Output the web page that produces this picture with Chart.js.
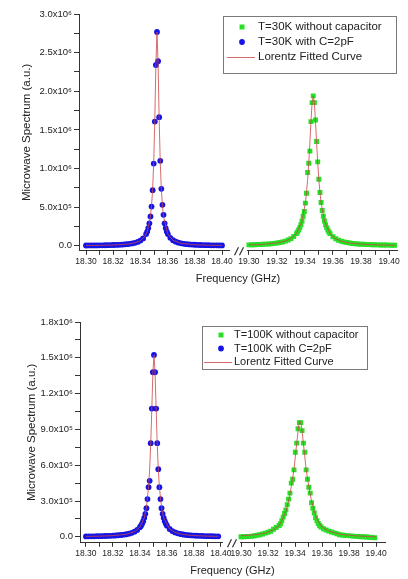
<!DOCTYPE html>
<html><head><meta charset="utf-8">
<script src="https://cdn.jsdelivr.net/npm/chart.js@4"></script>
<style>
html,body{margin:0;padding:0;background:#fff;}
#wrap{position:relative;width:408px;height:579px;overflow:hidden;background:#fff;}
canvas{position:absolute;left:0;}
#c1{top:0;width:408px;height:290px;}
#c2{top:290px;width:408px;height:289px;}
</style></head><body>
<div id="wrap"><canvas id="c1" width="408" height="290"></canvas><canvas id="c2" width="408" height="289"></canvas></div>
<script>
// ---------- DATA (spectrum values in units of 10^6 a.u., frequency in GHz) ----------
// Panel 1: T = 30 K
const freqBlue30 = [18.300,18.302,18.304,18.306,18.308,18.310,18.312,18.314,18.316,18.318,18.320,18.322,18.324,18.326,18.328,18.330,18.332,18.334,18.336,18.338,18.340,18.342,
  18.3442,18.3450,18.3458,18.3466,18.3474,18.3482,18.3490,18.3498,18.3506,18.3514,18.3522,18.3530,18.3538,18.3546,18.3554,18.3562,18.3570,18.3578,18.3586,18.3594,18.3602,
  18.362,18.364,18.366,18.368,18.370,18.372,18.374,18.376,18.378,18.380,18.382,18.384,18.386,18.388,18.390,18.392,18.394,18.396,18.398,18.400];
const specBlue30 = [0.0037,0.0040,0.0043,0.0047,0.0052,0.0057,0.0063,0.0070,0.0078,0.0087,0.0098,0.0111,0.0128,0.0148,0.0173,0.0205,0.0248,0.0304,0.0383,0.0497,0.0669,0.0947,
  0.151,0.184,0.229,0.290,0.379,0.508,0.720,1.064,1.607,2.340,2.767,2.390,1.664,1.099,0.737,0.530,0.400,0.290,0.229,0.184,0.151,
  0.1025,0.0713,0.0525,0.0403,0.0318,0.0258,0.0213,0.0179,0.0152,0.0131,0.0114,0.0100,0.0089,0.0080,0.0072,0.0065,0.0059,0.0054,0.0049,0.0045];
const freqGreen30 = [19.300,19.302,19.304,19.306,19.308,19.310,19.312,19.314,19.316,19.318,19.320,19.322,19.324,19.326,19.328,19.330,19.332,
  19.3339,19.3347,19.3355,19.3363,19.3371,19.3379,19.3387,19.3395,19.3403,19.3411,19.3419,19.3427,19.3435,19.3443,19.3451,19.3459,19.3467,19.3475,19.3483,19.3491,19.3499,19.3507,19.3515,19.3523,19.3531,19.3539,19.3547,19.3555,19.3563,19.3571,19.3579,
  19.360,19.362,19.364,19.366,19.368,19.370,19.372,19.374,19.376,19.378,19.380,19.382,19.384,19.386,19.388,19.390,19.392,19.394,19.396,19.398,19.400,19.402,19.404];
const specGreen30 = [0.0116,0.0127,0.0139,0.0153,0.0170,0.0189,0.0212,0.0239,0.0273,0.0311,0.0360,0.0421,0.0500,0.0602,0.0738,0.0926,0.1200,
  0.157,0.178,0.204,0.235,0.273,0.321,0.381,0.444,0.552,0.681,0.948,1.069,1.225,1.607,1.853,1.940,1.853,1.629,1.349,1.086,0.862,0.689,0.560,0.456,0.381,0.321,0.273,0.235,0.204,0.178,0.157,
  0.116,0.0904,0.0724,0.0590,0.0491,0.0414,0.0355,0.0307,0.0268,0.0236,0.0209,0.0187,0.0168,0.0152,0.0138,0.0126,0.0115,0.0106,0.0098,0.0091,0.0084,0.0078,0.0072];
const fitFreqBlue30 = [18.300,18.310,18.320,18.330,18.336,18.340,18.343,18.345,18.347,18.3482,18.349,18.3498,18.3506,18.3514,18.3522,18.3530,18.3538,18.3546,18.3554,18.3562,18.357,18.360,18.364,18.370,18.380,18.390,18.400];
const fitBlue30 = [0.0037,0.0057,0.0098,0.0205,0.0383,0.0669,0.1155,0.1837,0.332,0.518,0.732,1.080,1.633,2.357,2.767,2.357,1.633,1.080,0.732,0.518,0.382,0.158,0.0713,0.0318,0.0131,0.0072,0.0045];
const fitFreqGreen30 = [19.300,19.310,19.320,19.326,19.330,19.3339,19.3379,19.3403,19.3411,19.3419,19.3427,19.3435,19.3443,19.3451,19.3459,19.3467,19.3475,19.3483,19.3491,19.3499,19.3507,19.3515,19.3539,19.3579,19.362,19.366,19.372,19.380,19.390,19.404];
const fitGreen30 = [0.0116,0.0189,0.0360,0.0602,0.0926,0.157,0.321,0.558,0.688,0.858,1.073,1.334,1.614,1.853,1.940,1.853,1.614,1.334,1.073,0.858,0.688,0.558,0.321,0.157,0.0904,0.0590,0.0355,0.0209,0.0126,0.0072];

// Panel 2: T = 100 K
const freqBlue100 = [18.300,18.302,18.304,18.306,18.308,18.310,18.312,18.314,18.316,18.318,18.320,18.322,18.324,18.326,18.328,18.330,18.332,18.334,18.336,18.338,18.340,
  18.3408,18.3416,18.3424,18.3432,18.3440,18.3448,18.3456,18.3464,18.3472,18.3480,18.3488,18.3496,18.3504,18.3512,18.3520,18.3528,18.3536,18.3544,18.3552,18.3560,18.3568,18.3576,18.3584,18.3592,18.3600,
  18.362,18.364,18.366,18.368,18.370,18.372,18.374,18.376,18.378,18.380,18.382,18.384,18.386,18.388,18.390,18.392,18.394,18.396,18.398];
const specBlue100 = [0.0036,0.0039,0.0042,0.0046,0.0051,0.0056,0.0062,0.0069,0.0078,0.0087,0.0099,0.0113,0.0131,0.0153,0.0182,0.0218,0.0268,0.0336,0.0432,0.0577,0.0806,
  0.0936,0.110,0.131,0.159,0.193,0.240,0.316,0.416,0.469,0.785,1.075,1.379,1.524,1.379,1.075,0.785,0.567,0.416,0.316,0.240,0.193,0.159,0.131,0.110,0.0936,
  0.0657,0.0482,0.0370,0.0292,0.0236,0.0195,0.0164,0.0139,0.0120,0.0104,0.0091,0.0081,0.0072,0.0065,0.0059,0.0053,0.0049,0.0045,0.0041];
const freqGreen100 = [19.300,19.302,19.304,19.306,19.308,19.310,19.312,19.314,19.316,19.318,19.320,19.322,19.324,19.326,
  19.3282,19.3292,19.3302,19.3312,19.3322,19.3332,19.3342,19.3352,19.3362,19.3372,19.3382,19.3392,19.3402,19.3412,19.3422,19.3432,
  19.3442,19.3452,19.3462,19.3472,19.3482,19.3492,19.3502,19.3512,19.3522,19.3532,19.3542,19.3552,19.3562,19.3572,19.3582,19.3592,
  19.361,19.363,19.365,19.367,19.369,19.371,19.373,19.375,19.377,19.379,19.381,19.383,19.385,19.387,19.389,19.391,19.393,19.395,19.397,19.399];
const specGreen100 = [0.000,0.001,0.002,0.003,0.005,0.009,0.013,0.017,0.024,0.031,0.038,0.047,0.064,0.078,
  0.095,0.110,0.135,0.165,0.195,0.226,0.270,0.316,0.366,0.450,0.483,0.561,0.709,0.785,0.905,0.957,
  0.957,0.890,0.785,0.709,0.561,0.483,0.416,0.366,0.285,0.240,0.200,0.160,0.135,0.112,0.095,0.082,
  0.068,0.058,0.048,0.040,0.033,0.026,0.018,0.015,0.012,0.010,0.008,0.006,0.004,0.003,0.001,0.000,-0.002,-0.004,-0.006,-0.008];
const fitFreqBlue100 = [18.300,18.310,18.320,18.330,18.336,18.340,18.3432,18.3448,18.3464,18.3472,18.3480,18.3488,18.3496,18.3504,18.3512,18.3520,18.3528,18.3536,18.3544,18.3560,18.3576,18.362,18.366,18.372,18.380,18.390,18.398];
const fitBlue100 = [0.0036,0.0056,0.0099,0.0218,0.0432,0.0806,0.159,0.247,0.418,0.566,0.781,1.071,1.378,1.524,1.378,1.071,0.781,0.566,0.418,0.247,0.159,0.0657,0.037,0.0195,0.0104,0.0059,0.0041];
const fitFreqGreen100 = [19.300,19.310,19.318,19.324,19.3282,19.3312,19.3332,19.3352,19.3372,19.3392,19.3412,19.3427,19.3437,19.3447,19.3462,19.3482,19.3502,19.3522,19.3542,19.3562,19.3592,19.365,19.373,19.385,19.400];
const fitGreen100 = [0.010,0.017,0.031,0.060,0.095,0.160,0.215,0.300,0.420,0.565,0.780,0.935,0.970,0.935,0.780,0.565,0.420,0.300,0.215,0.150,0.090,0.048,0.022,0.008,0.000];

// Tick values / labels
const xMajorLeft = [18.30,18.32,18.34,18.36,18.38,18.40];
const xLabelsLeft = ['18.30','18.32','18.34','18.36','18.38','18.40'];
const xMajorRight = [19.30,19.32,19.34,19.36,19.38,19.40];
const xLabelsRight = ['19.30','19.32','19.34','19.36','19.38','19.40'];
const yMajor30 = [0,0.5,1.0,1.5,2.0,2.5,3.0];
const yLabels30 = ['0.0','5.0x10\u2075','1.0x10\u2076','1.5x10\u2076','2.0x10\u2076','2.5x10\u2076','3.0x10\u2076'];
const yMajor100 = [0,0.3,0.6,0.9,1.2,1.5,1.8];
const yLabels100 = ['0.0','3.0x10\u2075','6.0x10\u2075','9.0x10\u2075','1.2x10\u2076','1.5x10\u2076','1.8x10\u2076'];
const legend30 = ['T=30K without capacitor','T=30K with C=2pF','Lorentz Fitted Curve'];
const legend100 = ['T=100K without capacitor','T=100K with C=2pF','Lorentz Fitted Curve'];

// ---------- helpers ----------
const FONT = "'Liberation Sans', Arial, Helvetica, sans-serif";
const GREEN = '#25e025', BLUE = '#1414e6', FIT = 'rgba(205,70,70,0.8)', INK = '#222', AXIS = '#333';
const pts = (xs, ys) => xs.map((x, i) => ({x: x, y: ys[i]}));
const withMinor = m => { const out = []; m.forEach((v, i) => { if (i) out.push((m[i-1] + v) / 2); out.push(v); }); return out; };
const labelFor = (m, l) => v => { const i = m.findIndex(t => Math.abs(t - v) < 1e-6); return i >= 0 ? l[i] : ''; };

const boxLegend = {
  id: 'boxLegend',
  afterDraw(chart, args, o) {
    const ctx = chart.ctx;
    ctx.save();
    ctx.strokeStyle = '#7a7a7a'; ctx.lineWidth = 1;
    ctx.strokeRect(o.left + 0.5, o.top + 0.5, o.width, o.height);
    ctx.font = o.fontSize + 'px ' + FONT; ctx.fillStyle = INK; ctx.textBaseline = 'middle'; ctx.textAlign = 'left';
    let row = 0;
    chart.data.datasets.forEach(ds => {
      if (!ds.label) return;
      const y = o.top + o.firstRow + row * o.rowGap;
      if (ds.showLine) {
        ctx.strokeStyle = ds.borderColor; ctx.lineWidth = 1;
        ctx.beginPath(); ctx.moveTo(o.lineX0, y + 0.5); ctx.lineTo(o.lineX1, y + 0.5); ctx.stroke();
      } else if (ds.pointStyle === 'rect') {
        const s = ds.pointRadius * Math.SQRT1_2;
        ctx.fillStyle = ds.backgroundColor; ctx.fillRect(o.markerX - s, y - s, 2 * s, 2 * s);
      } else {
        ctx.fillStyle = ds.backgroundColor; ctx.beginPath(); ctx.arc(o.markerX, y, ds.pointRadius, 0, Math.PI * 2); ctx.fill();
      }
      ctx.fillStyle = INK;
      ctx.fillText(ds.label, o.textX, y);
      row++;
    });
    ctx.restore();
  }
};

const axisBreak = {
  id: 'axisBreak',
  afterDraw(chart) {
    const ctx = chart.ctx, jx = chart.scales.x1.right, y = chart.chartArea.bottom;
    ctx.save();
    ctx.fillStyle = '#fff'; ctx.fillRect(jx - 9, y - 2, 17, 4);
    ctx.strokeStyle = AXIS; ctx.lineWidth = 1.2;
    ctx.beginPath();
    ctx.moveTo(jx - 4.5, y + 4.5); ctx.lineTo(jx - 0.5, y - 3.5);
    ctx.moveTo(jx + 0.5, y + 4.5); ctx.lineTo(jx + 4.5, y - 3.5);
    ctx.stroke();
    ctx.restore();
  }
};

function xScale(stackWeight, min, max, majors, labels) {
  return {
    type: 'linear', axis: 'x', position: 'bottom', stack: 'freq', stackWeight: stackWeight, min: min, max: max,
    afterBuildTicks: s => { s.ticks = withMinor(majors).map(v => ({value: v})); },
    afterFit: s => { s.height = 18; },
    ticks: {autoSkip: false, maxRotation: 0, minRotation: 0, padding: 2, color: INK, font: {size: 8.5, family: FONT}, callback: labelFor(majors, labels)},
    grid: {drawOnChartArea: false, drawTicks: true, tickLength: 4, tickColor: AXIS},
    border: {display: true, color: AXIS, width: 1}
  };
}

function makePanel(canvasId, p) {
  return new Chart(document.getElementById(canvasId), {
    type: 'scatter',
    data: {
      datasets: [
        {label: p.legend[0], data: pts(p.gF, p.gV), xAxisID: 'x2', yAxisID: 'y', pointStyle: 'rect', pointRadius: 3.5, backgroundColor: GREEN, borderWidth: 0, pointBorderWidth: 0, showLine: false, order: 1},
        {label: p.legend[1], data: pts(p.bF, p.bV), xAxisID: 'x1', yAxisID: 'y', pointStyle: 'circle', pointRadius: 2.9, backgroundColor: BLUE, borderWidth: 0, pointBorderWidth: 0, showLine: false, order: 1},
        {label: p.legend[2], data: pts(p.fbF, p.fbV), xAxisID: 'x1', yAxisID: 'y', showLine: true, pointRadius: 0, borderColor: FIT, borderWidth: 1, tension: 0, fill: false, order: 0},
        {data: pts(p.fgF, p.fgV), xAxisID: 'x2', yAxisID: 'y', showLine: true, pointRadius: 0, borderColor: FIT, borderWidth: 1, tension: 0, fill: false, order: 0}
      ]
    },
    options: {
      responsive: false, animation: false, events: [],
      layout: {padding: p.padding},
      scales: {
        x1: xScale(p.w1, p.x1min, p.x1max, xMajorLeft, xLabelsLeft),
        x2: xScale(p.w2, p.x2min, p.x2max, xMajorRight, xLabelsRight),
        y: {
          type: 'linear', position: 'left', min: p.ymin, max: p.ymax,
          afterBuildTicks: s => { s.ticks = withMinor(p.yMajor).map(v => ({value: v})); },
          afterFit: s => { s.width = p.yWidth; },
          ticks: {autoSkip: false, padding: 2, color: INK, font: {size: 9.5, family: FONT}, callback: labelFor(p.yMajor, p.yLabels)},
          grid: {drawOnChartArea: false, drawTicks: true, tickLength: 5, tickColor: AXIS},
          border: {display: true, color: AXIS, width: 1},
          title: {display: true, text: 'Microwave Spectrum (a.u.)', color: INK, font: {size: 11.5, family: FONT}, padding: {top: p.yTitlePad, bottom: 0}}
        }
      },
      plugins: {
        legend: {display: false},
        tooltip: {enabled: false},
        title: {display: true, text: 'Frequency (GHz)', position: 'bottom', fullSize: false, color: INK, font: {size: 11, family: FONT, weight: 'normal'}, padding: {top: 4, bottom: 0}},
        boxLegend: p.box
      }
    },
    plugins: [boxLegend, axisBreak]
  });
}

makePanel('c1', {
  legend: legend30, gF: freqGreen30, gV: specGreen30, bF: freqBlue30, bV: specBlue30,
  fbF: fitFreqBlue30, fbV: fitBlue30, fgF: fitFreqGreen30, fgV: fitGreen30,
  padding: {left: 0, top: 14, right: 11, bottom: 4},
  w1: 160, w2: 158, x1min: 18.29485, x1max: 18.4125, x2min: 19.2929, x2max: 19.4057,
  ymin: -0.065, ymax: 3.0, yMajor: yMajor30, yLabels: yLabels30, yWidth: 79, yTitlePad: 20,
  box: {left: 223, top: 16, width: 173, height: 57, firstRow: 11, rowGap: 15, markerX: 242, lineX0: 227, lineX1: 255, textX: 258, fontSize: 11.5}
});
makePanel('c2', {
  legend: legend100, gF: freqGreen100, gV: specGreen100, bF: freqBlue100, bV: specBlue100,
  fbF: fitFreqBlue100, fbV: fitBlue100, fgF: fitFreqGreen100, fgV: fitGreen100,
  padding: {left: 0, top: 32, right: 23, bottom: 1},
  w1: 152, w2: 153, x1min: 18.2956, x1max: 18.4082, x2min: 19.2933, x2max: 19.4066,
  ymin: -0.05, ymax: 1.8, yMajor: yMajor100, yLabels: yLabels100, yWidth: 80, yTitlePad: 25,
  box: {left: 202, top: 36, width: 165, height: 43, firstRow: 9, rowGap: 13.5, markerX: 221, lineX0: 204, lineX1: 232, textX: 234, fontSize: 11}
});
</script></body></html>
